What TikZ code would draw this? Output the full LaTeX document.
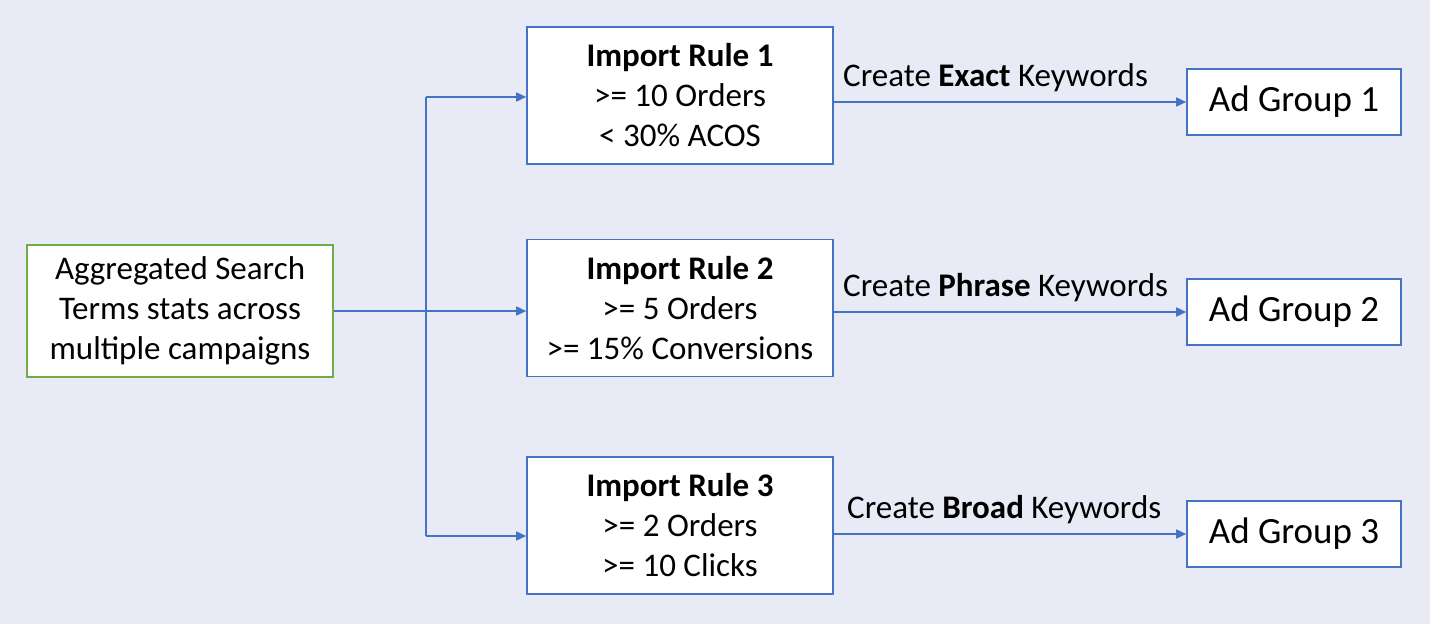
\documentclass[tikz,border=0pt]{standalone}
\usepackage{fontspec}
\setmainfont{Carlito}
\usetikzlibrary{arrows.meta}
\definecolor{bgc}{HTML}{E8EBF5}
\definecolor{flow}{HTML}{4472C4}
\definecolor{srcgreen}{HTML}{70AD47}
\begin{document}
\begin{tikzpicture}[x=1pt,y=-1pt,
  every node/.style={font=\fontsize{33}{40}\selectfont, align=center, inner sep=0pt},
  rulebox/.style={draw=flow, fill=white, line width=1.6pt, minimum width=306pt, minimum height=137pt},
  srcbox/.style={draw=srcgreen, fill=white, line width=1.6pt, minimum width=306pt, minimum height=132pt},
  adbox/.style={draw=flow, fill=white, line width=1.6pt, minimum width=214pt, minimum height=66pt,
    font=\fontsize{37}{44}\selectfont},
  link/.style={draw=flow, line width=1.6pt, -{Triangle[length=10pt,width=9pt]}},
  bus/.style={draw=flow, line width=1.6pt},
  lbl/.style={anchor=south west, inner sep=0pt}
]
\fill[bgc] (0,0) rectangle (1430,624);
\useasboundingbox (0,0) rectangle (1430,624);

% source and rule boxes
\node[srcbox] (src) at (180,311) {Aggregated Search\\Terms stats across\\multiple campaigns};
\node[rulebox] (r1) at (680,95.5) {\textbf{Import Rule 1}\\>= 10 Orders\\< 30\% ACOS};
\node[rulebox] (r2) at (680,308) {\textbf{Import Rule 2}\\>= 5 Orders\\>= 15\% Conversions};
\node[rulebox] (r3) at (680,525.5) {\textbf{Import Rule 3}\\>= 2 Orders\\>= 10 Clicks};

% ad groups
\node[adbox] (a1) at (1294,102) {Ad Group 1};
\node[adbox] (a2) at (1294,312) {Ad Group 2};
\node[adbox] (a3) at (1294,534) {Ad Group 3};

% distribution bus
\coordinate (b1) at (426,97);
\coordinate (b3) at (426,536);
\draw[bus] (b1) -- (b3);
\draw[link] (b1) -- (b1 -| r1.west);
\draw[link] (src.east) -- (src.east -| r2.west);
\draw[link] (b3) -- (b3 -| r3.west);

% rule outputs
\draw[link] (r1.east |- a1.west) -- (a1.west);
\draw[link] (r2.east |- a2.west) -- (a2.west);
\draw[link] (r3.east |- a3.west) -- (a3.west);

\node[lbl] (l1) at (843,92) {Create \textbf{Exact} Keywords};
\node[lbl] (l2) at (843,302) {Create \textbf{Phrase} Keywords};
\node[lbl] (l3) at (847,524) {Create \textbf{Broad} Keywords};
\end{tikzpicture}
\end{document}
